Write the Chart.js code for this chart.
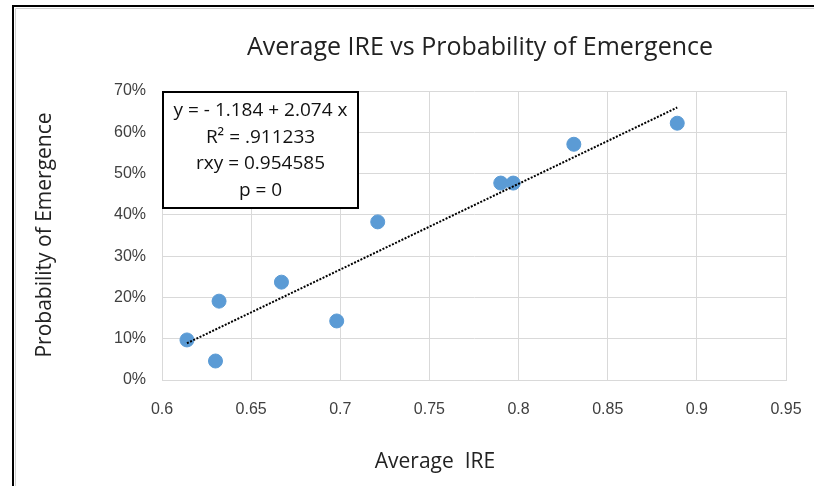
<!DOCTYPE html>
<html>
<head>
<meta charset="utf-8">
<script src="https://cdn.jsdelivr.net/npm/chart.js@4"></script>
<style>
  html, body { margin: 0; padding: 0; background: #fff; }
  #wrap { width: 814px; height: 486px; position: relative; }
</style>
</head>
<body>
<div id="wrap"><canvas id="myChart"></canvas></div>
<script>
// data
let avgIRE = [0.614, 0.630, 0.632, 0.667, 0.698, 0.721, 0.790, 0.797, 0.831, 0.889];
let probEmergence = [0.097, 0.046, 0.191, 0.237, 0.143, 0.383, 0.477, 0.477, 0.571, 0.622];
// fitted line end points
let trendX = [0.614, 0.889];
let trendY = [0.089, 0.660];
let statLines = ['y = - 1.184 + 2.074 x', 'R\u00B2 = .911233', 'rxy = 0.954585', 'p = 0'];

let tickFont = '"Liberation Sans", sans-serif';
let textFont = '"Open Sans", sans-serif';

// title, outer frame, axis titles and the stats box
let extras = {
  id: 'extras',
  afterDatasetsDraw(chart) {
    let ctx = chart.ctx;
    let a = chart.chartArea;
    ctx.save();
    // stats box
    let bx = a.left + 1, by = a.top + 1, bw = 195, bh = 116;
    ctx.fillStyle = '#fff';
    ctx.fillRect(bx, by, bw, bh);
    ctx.strokeStyle = '#000';
    ctx.lineWidth = 2;
    ctx.strokeRect(bx, by, bw, bh);
    ctx.fillStyle = '#111';
    ctx.font = '19px ' + textFont;
    ctx.textAlign = 'center';
    ctx.textBaseline = 'middle';
    let ys = [19, 46, 72, 99];
    statLines.forEach((t, i) => ctx.fillText(t, bx + bw / 2, by + ys[i]));
    ctx.restore();
  },
  afterDraw(chart) {
    let ctx = chart.ctx;
    ctx.save();
    ctx.fillStyle = '#222';
    ctx.textAlign = 'center';
    ctx.textBaseline = 'middle';
    ctx.font = '25px ' + textFont;
    ctx.fillText('Average IRE vs Probability of Emergence', 480, 48);
    ctx.font = '21px ' + textFont;
    ctx.fillText('Average  IRE', 435, 462);
    ctx.translate(45, 235);
    ctx.rotate(-Math.PI / 2);
    ctx.font = '21px ' + textFont;
    ctx.fillText('Probability of Emergence', 0, 0);
    ctx.restore();
    // frame
    ctx.save();
    ctx.strokeStyle = '#d0d0d0';
    ctx.lineWidth = 1;
    ctx.beginPath();
    ctx.moveTo(15.5, 486); ctx.lineTo(15.5, 8.5); ctx.lineTo(814, 8.5);
    ctx.stroke();
    ctx.strokeStyle = '#000';
    ctx.lineWidth = 2;
    ctx.beginPath();
    ctx.moveTo(13, 486); ctx.lineTo(13, 6); ctx.lineTo(814, 6);
    ctx.stroke();
    ctx.restore();
  }
};

let ctx = document.getElementById('myChart').getContext('2d');
let chart = new Chart(ctx, {
  type: 'scatter',
  data: {
    datasets: [{
      type: 'line',
      data: trendX.map((x, i) => ({ x: x, y: trendY[i] })),
      borderColor: '#000',
      borderWidth: 2,
      borderDash: [2, 1.5],
      pointRadius: 0,
      fill: false,
      order: 0
    }, {
      data: avgIRE.map((x, i) => ({ x: x, y: probEmergence[i] })),
      backgroundColor: '#5b9bd5',
      borderColor: '#5b9bd5',
      pointRadius: 7,
      pointHoverRadius: 7,
      order: 1
    }]
  },
  options: {
    responsive: true,
    maintainAspectRatio: false,
    animation: false,
    layout: { padding: { left: 0, right: 28, top: 91, bottom: 0 } },
    plugins: {
      legend: { display: false },
      tooltip: { enabled: false },
      title: { display: false }
    },
    scales: {
      x: {
        type: 'linear',
        min: 0.6,
        max: 0.95,
        grid: { color: '#d9d9d9', drawTicks: false },
        border: { color: '#d9d9d9' },
        ticks: {
          stepSize: 0.05,
          padding: 20,
          color: '#404040',
          font: { family: tickFont, size: 16 },
          callback: v => String(parseFloat(v.toFixed(2)))
        },
        afterFit: s => { s.height = 106; s.paddingLeft = 0; s.paddingRight = 0; }
      },
      y: {
        min: 0,
        max: 0.7,
        grid: { color: '#d9d9d9', drawTicks: false },
        border: { color: '#d9d9d9' },
        ticks: {
          stepSize: 0.1,
          padding: 16,
          color: '#404040',
          font: { family: tickFont, size: 16 },
          callback: v => Math.round(v * 100) + '%'
        },
        afterFit: s => { s.width = 162; s.paddingTop = 0; s.paddingBottom = 0; }
      }
    }
  },
  plugins: [extras]
});
</script>
</body>
</html>
